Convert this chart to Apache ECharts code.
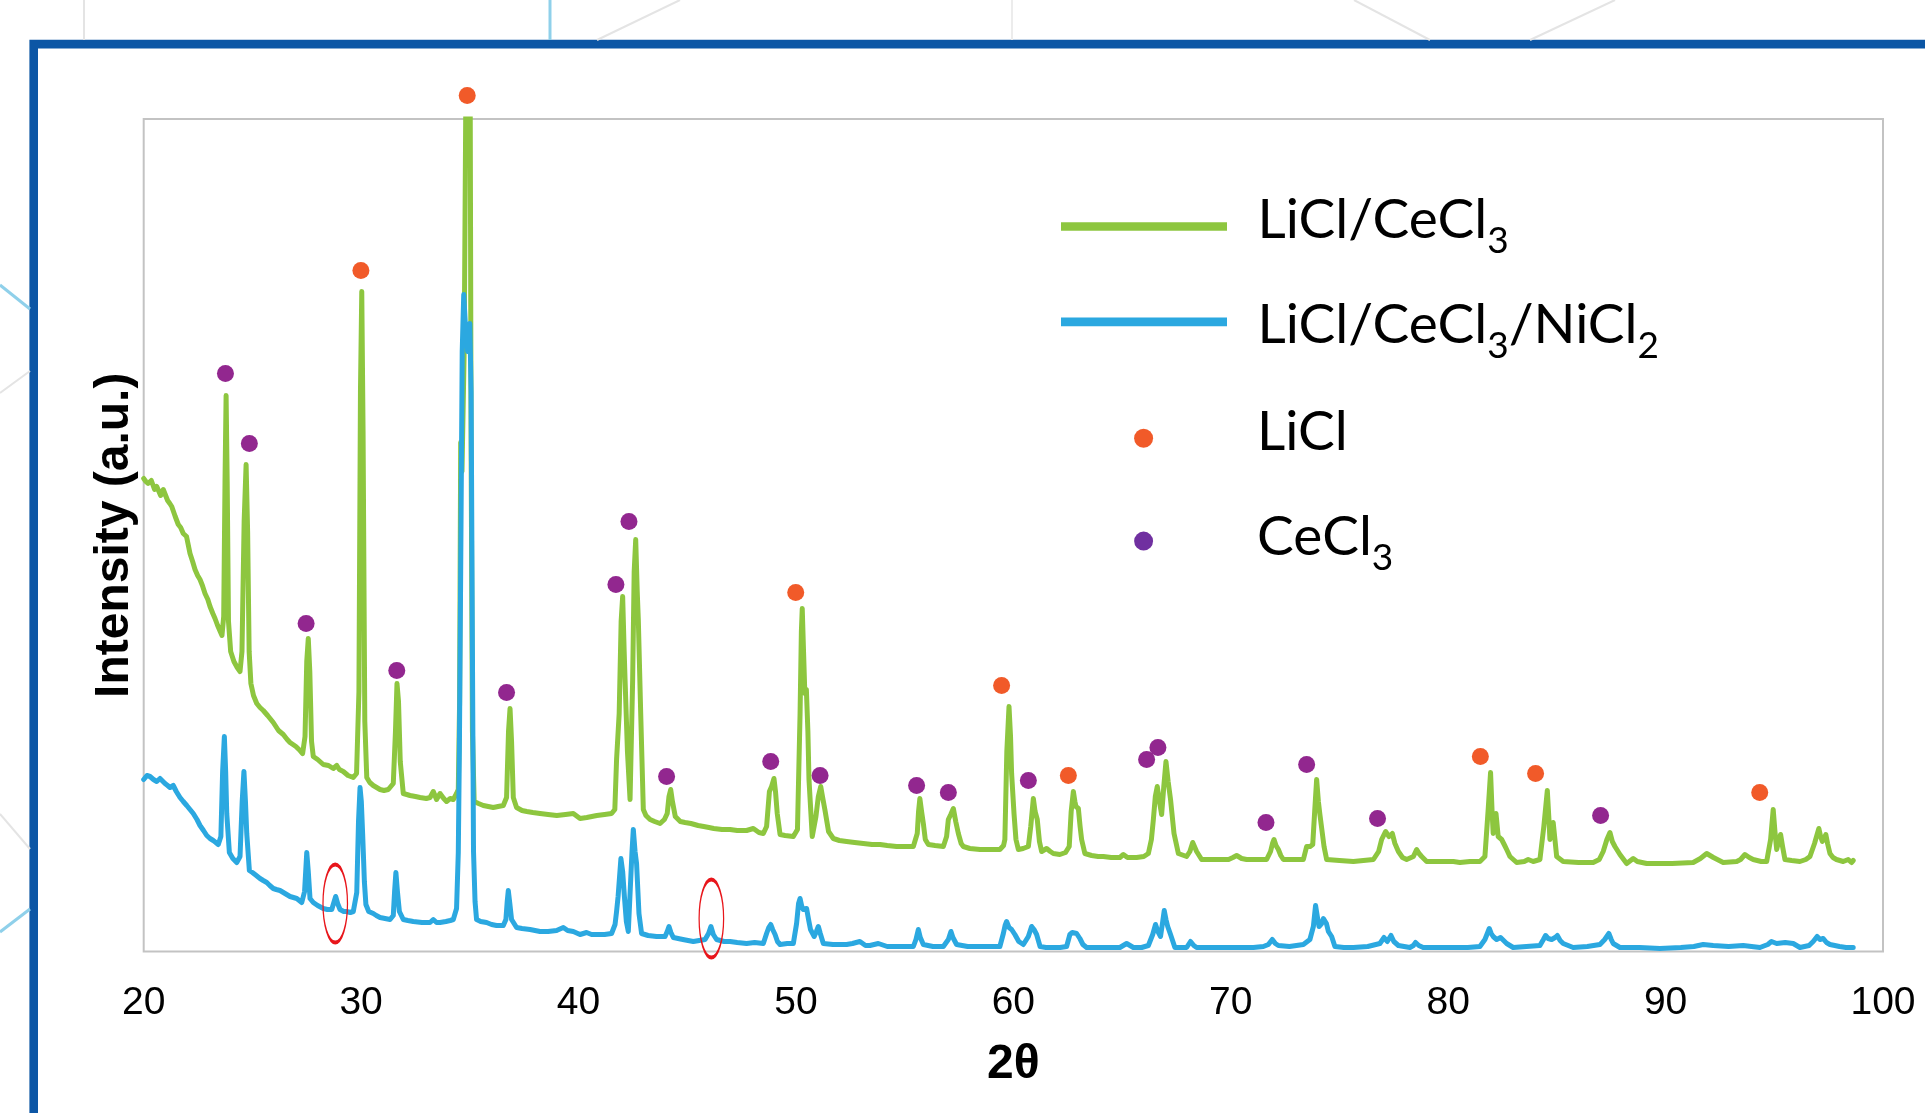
<!DOCTYPE html>
<html>
<head>
<meta charset="utf-8">
<script src="https://cdn.jsdelivr.net/npm/echarts@6.0.0/dist/echarts.min.js"></script>
<style>
html,body{margin:0;padding:0;background:#fff;}
#chart{width:1925px;height:1113px;}
</style>
</head>
<body>
<div id="chart"></div>
<script>
// ---- data (2θ in degrees, intensity in arbitrary units) ----
const xMin = 20, xMax = 100, xStep = 10;
const yMax = 832.5;

const seriesNames = ['LiCl/CeCl3', 'LiCl/CeCl3/NiCl2', 'LiCl', 'CeCl3'];

const liclCecl3 = [
[20.0,473],[20.1,470],[20.2,468],[20.35,471],[20.5,462],[20.6,465],[20.78,456],[20.9,462],[20.98,463],[21.1,451],[21.2,448],[21.29,445],[21.45,435],[21.59,427],[21.7,424],[21.82,418],[21.97,415],[22.13,398],[22.25,390],[22.36,382],[22.48,376],[22.59,372],[22.7,366],[22.82,358],[22.95,352],[23.05,345],[23.18,338],[23.28,333],[23.4,326],[23.5,321],[23.6,316],[23.68,335],[23.74,470],[23.79,556],[23.84,470],[23.9,330],[24.0,300],[24.15,290],[24.3,284],[24.43,280],[24.52,300],[24.62,430],[24.71,487],[24.78,420],[24.85,300],[24.93,268],[25.05,256],[25.2,248],[25.35,244],[25.5,241],[25.7,236],[25.96,229],[26.2,221],[26.42,217],[26.6,212],[26.73,209],[27.0,205],[27.19,201],[27.31,198],[27.42,215],[27.5,290],[27.57,313],[27.64,280],[27.72,210],[27.8,195],[28.0,192],[28.26,187],[28.5,186],[28.72,183],[28.88,186],[29.0,182],[29.18,180],[29.4,176],[29.64,174],[29.79,178],[29.9,260],[29.97,560],[30.03,660],[30.09,520],[30.17,230],[30.26,174],[30.4,169],[30.56,166],[30.87,162],[31.05,161],[31.25,162],[31.48,168],[31.58,220],[31.65,268],[31.72,250],[31.8,190],[31.94,158],[32.1,157],[32.25,156],[32.5,155],[32.71,154],[33.0,153],[33.17,154],[33.32,160],[33.47,152],[33.63,158],[33.8,153],[33.93,150],[34.1,153],[34.24,152],[34.39,158],[34.47,162],[34.53,250],[34.58,509],[34.64,480],[34.74,600],[34.86,1000],[34.9,1000],[35.0,1000],[35.06,500],[35.12,220],[35.2,150],[35.4,148],[35.62,146],[35.85,145],[36.08,144],[36.3,145],[36.54,146],[36.69,154],[36.78,220],[36.85,243],[36.92,210],[37.0,154],[37.15,144],[37.4,141],[37.62,140],[37.9,139],[38.23,138],[38.6,137],[39.0,136],[39.4,137],[39.76,138],[40.07,133],[40.38,134],[40.84,136],[41.2,137],[41.52,138],[41.67,142],[41.75,192],[41.87,238],[41.96,330],[42.03,355],[42.1,300],[42.14,272],[42.25,200],[42.37,152],[42.49,272],[42.56,380],[42.63,412],[42.7,360],[42.75,332],[42.86,238],[42.98,142],[43.1,136],[43.29,132],[43.5,130],[43.75,128],[43.95,132],[44.08,138],[44.16,155],[44.24,162],[44.32,150],[44.45,135],[44.68,130],[44.9,129],[45.17,128],[45.5,126],[45.76,125],[46.0,124],[46.22,123],[46.6,122],[46.97,122],[47.3,121],[47.73,121],[48.04,123],[48.3,119],[48.5,118],[48.65,125],[48.78,160],[48.88,165],[48.99,173],[49.06,160],[49.14,138],[49.27,117],[49.5,116],[49.88,115],[50.07,122],[50.19,238],[50.25,320],[50.29,343],[50.35,300],[50.41,258],[50.48,262],[50.55,220],[50.6,172],[50.75,115],[50.92,135],[51.03,155],[51.14,165],[51.22,155],[51.33,142],[51.5,120],[51.72,113],[52.0,111],[52.33,110],[52.7,109],[53.1,108],[53.5,107],[53.87,107],[54.2,106],[54.63,105],[55.0,105],[55.4,105],[55.58,118],[55.64,140],[55.7,153],[55.78,140],[55.86,128],[55.95,112],[56.09,107],[56.4,106],[56.78,105],[56.93,115],[57.01,132],[57.12,137],[57.24,143],[57.35,130],[57.47,118],[57.6,108],[57.7,105],[58.0,103],[58.47,102],[58.9,102],[59.38,102],[59.55,106],[59.61,112],[59.7,200],[59.8,245],[59.87,215],[59.92,178],[60.03,138],[60.12,112],[60.23,102],[60.45,103],[60.69,105],[60.8,125],[60.92,153],[61.0,140],[61.1,132],[61.2,110],[61.3,100],[61.53,103],[61.7,100],[61.84,98],[62.14,97],[62.4,99],[62.57,105],[62.66,140],[62.76,160],[62.83,150],[62.88,145],[62.99,143],[63.07,125],[63.14,112],[63.29,98],[63.6,96],[63.9,95],[64.14,95],[64.5,94],[64.9,94],[65.06,97],[65.25,94],[65.67,94],[66.0,95],[66.21,98],[66.35,112],[66.44,132],[66.53,155],[66.62,165],[66.72,150],[66.82,137],[66.92,165],[67.02,190],[67.12,170],[67.23,152],[67.39,118],[67.59,98],[67.97,95],[68.12,100],[68.25,109],[68.43,100],[68.66,92],[69.0,92],[69.5,92],[69.9,92],[70.1,94],[70.27,96],[70.5,93],[70.73,92],[71.2,92],[71.65,92],[71.83,100],[71.92,108],[71.99,112],[72.08,106],[72.19,102],[72.3,96],[72.42,92],[72.9,92],[73.34,92],[73.49,105],[73.65,105],[73.77,107],[73.86,140],[73.95,172],[74.03,150],[74.1,137],[74.18,137],[74.29,105],[74.41,92],[75.0,91],[75.64,90],[76.1,91],[76.56,92],[76.8,100],[76.94,112],[77.12,120],[77.28,115],[77.43,118],[77.55,108],[77.71,100],[77.9,94],[78.09,92],[78.4,95],[78.55,102],[78.66,98],[78.78,95],[79.01,90],[79.6,90],[80.24,90],[80.54,89],[81.0,90],[81.46,90],[81.69,95],[81.84,142],[81.95,179],[82.02,140],[82.07,118],[82.2,138],[82.3,115],[82.46,112],[82.6,106],[82.69,102],[82.84,95],[83.15,89],[83.5,90],[83.68,92],[83.91,90],[84.22,92],[84.4,125],[84.56,161],[84.64,130],[84.68,112],[84.76,120],[84.83,129],[84.92,110],[84.99,95],[85.29,90],[86.0,89],[86.67,89],[86.95,92],[87.13,100],[87.3,112],[87.44,119],[87.55,110],[87.67,105],[87.9,97],[88.21,88],[88.51,93],[88.7,90],[89.13,88],[89.7,88],[90.3,88],[91.27,89],[91.6,93],[91.89,98],[92.2,94],[92.65,89],[93.27,90],[93.45,92],[93.65,97],[93.85,94],[94.03,92],[94.4,90],[94.65,90],[94.83,112],[94.95,142],[95.03,120],[95.11,102],[95.2,110],[95.29,117],[95.38,105],[95.49,92],[95.8,91],[96.18,90],[96.45,92],[96.64,95],[96.85,108],[97.05,123],[97.13,115],[97.21,110],[97.37,117],[97.45,108],[97.56,98],[97.7,94],[97.86,92],[98.17,90],[98.4,92],[98.55,89],[98.63,91]
];

const liclCecl3Nicl2 = [
[20.0,172],[20.15,176],[20.29,175],[20.45,172],[20.6,170],[20.75,173],[20.98,168],[21.1,166],[21.21,164],[21.36,166],[21.5,160],[21.67,154],[21.82,150],[21.98,146],[22.13,142],[22.28,138],[22.45,132],[22.59,126],[22.75,121],[22.9,116],[23.05,113],[23.2,111],[23.32,109],[23.43,107],[23.55,115],[23.63,180],[23.71,215],[23.77,180],[23.82,138],[23.94,99],[24.1,93],[24.28,89],[24.43,95],[24.53,150],[24.61,180],[24.68,150],[24.74,118],[24.86,81],[25.0,79],[25.12,77],[25.35,73],[25.5,71],[25.66,69],[25.8,66],[25.96,63],[26.1,62],[26.27,61],[26.5,58],[26.73,55],[27.04,53],[27.27,49],[27.4,60],[27.5,99],[27.57,80],[27.65,53],[27.8,49],[28.0,46],[28.26,43],[28.45,42],[28.65,42],[28.76,50],[28.83,55],[28.92,48],[29.03,42],[29.2,40],[29.33,40],[29.5,39],[29.64,40],[29.8,59],[29.88,130],[29.95,164],[30.01,150],[30.07,118],[30.15,70],[30.22,47],[30.35,40],[30.56,38],[30.7,36],[30.87,34],[31.1,33],[31.33,32],[31.48,36],[31.54,60],[31.6,79],[31.67,60],[31.76,40],[31.94,32],[32.15,31],[32.4,30],[32.8,29],[33.17,29],[33.32,32],[33.47,29],[33.63,29],[33.9,30],[34.1,31],[34.24,32],[34.39,43],[34.47,99],[34.52,201],[34.58,380],[34.65,600],[34.72,657],[34.8,625],[34.9,600],[35.0,628],[35.06,560],[35.12,300],[35.17,100],[35.24,50],[35.31,32],[35.5,30],[35.77,29],[36.0,27],[36.23,26],[36.54,26],[36.66,32],[36.72,50],[36.77,61],[36.84,48],[36.92,32],[37.15,24],[37.4,23],[37.77,22],[38.0,21],[38.23,20],[38.6,20],[38.99,21],[39.3,24],[39.5,21],[39.76,20],[40.07,17],[40.37,19],[40.6,17],[40.83,17],[41.2,17],[41.52,18],[41.68,27],[41.75,40],[41.82,55],[41.95,93],[42.03,80],[42.11,55],[42.2,30],[42.29,20],[42.4,72],[42.46,100],[42.52,122],[42.6,100],[42.67,88],[42.78,38],[42.9,18],[43.2,16],[43.59,15],[43.98,15],[44.08,20],[44.16,25],[44.25,19],[44.36,14],[44.8,12],[45.28,10],[45.55,11],[45.82,12],[45.98,18],[46.09,25],[46.2,17],[46.35,12],[46.7,10],[46.97,10],[47.3,9],[47.73,8],[48.1,9],[48.5,8],[48.65,18],[48.75,24],[48.84,27],[48.93,22],[49.04,17],[49.15,10],[49.27,7],[49.6,8],[49.88,8],[50.03,28],[50.12,48],[50.19,53],[50.27,45],[50.34,42],[50.42,40],[50.49,43],[50.58,32],[50.67,22],[50.84,15],[50.94,20],[51.03,25],[51.12,18],[51.26,8],[51.7,7],[52.0,7],[52.33,7],[52.6,8],[52.94,10],[53.2,6],[53.4,6],[53.79,8],[54.2,5],[54.63,5],[55.0,5],[55.4,5],[55.52,12],[55.63,22],[55.72,14],[55.86,7],[56.3,5],[56.78,5],[57.01,12],[57.13,20],[57.22,14],[57.39,7],[57.9,5],[58.46,5],[58.9,5],[59.38,5],[59.54,18],[59.62,26],[59.69,30],[59.8,24],[59.92,22],[60.07,17],[60.25,10],[60.46,7],[60.69,15],[60.84,25],[60.95,22],[61.07,17],[61.23,5],[61.5,4],[61.84,4],[62.15,4],[62.45,5],[62.6,17],[62.71,19],[62.8,17],[62.91,18],[63.06,13],[63.2,7],[63.37,4],[63.9,4],[64.4,4],[64.9,4],[65.21,8],[65.52,4],[65.9,4],[66.21,6],[66.41,17],[66.54,27],[66.65,20],[66.77,15],[66.87,30],[66.94,41],[67.02,32],[67.1,25],[67.23,17],[67.43,4],[67.97,4],[68.15,10],[68.3,6],[68.43,4],[69.0,4],[69.6,4],[70.3,4],[71.04,4],[71.5,5],[71.73,7],[71.91,12],[72.05,8],[72.19,6],[72.7,5],[73.34,7],[73.64,12],[73.8,25],[73.9,46],[73.98,35],[74.06,25],[74.18,28],[74.26,33],[74.33,35],[74.4,28],[74.49,20],[74.64,15],[74.79,5],[75.2,4],[75.64,4],[76.3,5],[76.86,8],[77.05,14],[77.2,10],[77.37,16],[77.5,10],[77.71,6],[78.24,4],[78.4,6],[78.5,9],[78.65,6],[78.85,4],[79.5,4],[80.24,4],[80.9,4],[81.46,5],[81.69,12],[81.8,18],[81.89,23],[81.98,18],[82.07,15],[82.23,12],[82.41,14],[82.55,11],[82.69,8],[82.99,4],[83.6,5],[84.22,6],[84.38,12],[84.48,16],[84.6,13],[84.76,12],[84.92,14],[85.02,16],[85.15,11],[85.29,8],[85.75,4],[86.4,5],[86.98,7],[87.2,12],[87.39,18],[87.5,12],[87.59,8],[87.9,4],[88.8,4],[89.74,3],[90.7,4],[91.3,5],[91.73,7],[92.19,6],[92.9,5],[93.57,6],[94.34,4],[94.7,7],[94.87,10],[95.11,8],[95.5,9],[95.87,8],[96.18,4],[96.6,6],[96.79,10],[96.97,15],[97.1,12],[97.25,13],[97.4,9],[97.56,7],[98.0,5],[98.3,4],[98.63,4]
];

// reflection markers (LiCl and CeCl3 phases)
const liclPeaks = [[29.99,681],[34.88,856],[49.99,359],[59.46,266],[62.53,176],[81.48,195],[84.02,178],[94.33,159]];
const cecl3Peaks = [[23.76,578],[24.86,508],[27.47,328],[31.64,281],[36.69,259],[41.72,367],[42.32,430],[44.05,175],[48.84,190],[51.11,176],[55.55,166],[57.01,159],[60.69,171],[66.13,192],[66.65,204],[71.62,129],[73.49,187],[76.75,133],[87.01,136]];

// highlighted weak reflections (red ellipses)
const highlighted = [[28.81,48],[46.11,33]];

// ---- chart ----
const FONT = '"Liberation Sans", Arial, sans-serif';
const LEG_FONT = 'Lato, "Open Sans", sans-serif';

function richName(name) {
  return name.split(/(\d)/).filter(s => s.length).map(s => /^\d$/.test(s) ? '{s|' + s + '}' : '{m|' + s + '}').join('');
}
const legendRich = {
  m: { fontSize: 55, fontFamily: LEG_FONT, color: '#000', lineHeight: 64 },
  s: { fontSize: 37, fontFamily: LEG_FONT, color: '#000', lineHeight: 20, padding: [42, 0, 0, 0] }
};
function makeLegend(name, left, top, icon, iconH, pad, color) {
  const item = { name: name, icon: icon };
  if (color) item.itemStyle = { color: color };
  return {
    data: [item],
    left: left, top: top, orient: 'vertical', padding: 0,
    itemWidth: 166, itemHeight: iconH, selectedMode: false,
    itemStyle: { borderWidth: 0 },
    formatter: richName,
    textStyle: { rich: legendRich, padding: pad }
  };
}

const ellipsePath = 'path://M50,0 C77.6,0 100,22.4 100,50 C100,77.6 77.6,100 50,100 C22.4,100 0,77.6 0,50 C0,22.4 22.4,0 50,0 Z';

const chart = echarts.init(document.getElementById('chart'), null, { renderer: 'canvas' });
chart.setOption({
  animation: false,
  backgroundColor: '#ffffff',
  graphic: [
    { type: 'rect', z: -10, silent: true, shape: { x: 33.7, y: 44.1, width: 2100, height: 1500 }, style: { fill: '#ffffff', stroke: '#0c56a5', lineWidth: 8.6 } },
    { type: 'line', z: -9, silent: true, shape: { x1: 84, y1: 0, x2: 84, y2: 40 }, style: { stroke: '#e4e4e4', lineWidth: 2 } },
    { type: 'line', z: -9, silent: true, shape: { x1: 550, y1: 0, x2: 550, y2: 40 }, style: { stroke: '#8fd0ea', lineWidth: 3 } },
    { type: 'line', z: -9, silent: true, shape: { x1: 597, y1: 40, x2: 680, y2: 0 }, style: { stroke: '#e4e4e4', lineWidth: 2 } },
    { type: 'line', z: -9, silent: true, shape: { x1: 1012, y1: 0, x2: 1012, y2: 40 }, style: { stroke: '#ececec', lineWidth: 2 } },
    { type: 'line', z: -9, silent: true, shape: { x1: 1354, y1: 0, x2: 1430, y2: 40 }, style: { stroke: '#e4e4e4', lineWidth: 2 } },
    { type: 'line', z: -9, silent: true, shape: { x1: 1530, y1: 40, x2: 1615, y2: 0 }, style: { stroke: '#e4e4e4', lineWidth: 2 } },
    { type: 'line', z: -9, silent: true, shape: { x1: 0, y1: 285, x2: 30, y2: 309 }, style: { stroke: '#8fd0ea', lineWidth: 3 } },
    { type: 'line', z: -9, silent: true, shape: { x1: 0, y1: 393, x2: 30, y2: 371 }, style: { stroke: '#e4e4e4', lineWidth: 2 } },
    { type: 'line', z: -9, silent: true, shape: { x1: 0, y1: 814, x2: 30, y2: 849 }, style: { stroke: '#e4e4e4', lineWidth: 2 } },
    { type: 'line', z: -9, silent: true, shape: { x1: 0, y1: 932, x2: 30, y2: 909 }, style: { stroke: '#8fd0ea', lineWidth: 3 } }
  ],
  grid: {
    left: 143.7, right: 42, top: 119, bottom: 161.5,
    show: true, borderColor: '#c3c3c3', borderWidth: 2, backgroundColor: 'transparent',
    outerBoundsMode: 'none'
  },
  legend: [
    makeLegend(seriesNames[0], 1061, 180.4, 'rect', 8.7, [0, 0, 13.2, 25.5]),
    makeLegend(seriesNames[1], 1061, 285.3, 'rect', 8.7, [6, 0, 0, 25.5]),
    makeLegend(seriesNames[2], 1134.1, 404.5, 'circle', 19, [0, 0, 12.4, 25.5], '#f15a29'),
    makeLegend(seriesNames[3], 1134.1, 497.5, 'circle', 19, [0, 0, 8.2, 25.5], '#7030a0')
  ],
  xAxis: {
    type: 'value', min: xMin, max: xMax, interval: xStep,
    axisLine: { show: false }, axisTick: { show: false }, splitLine: { show: false },
    axisLabel: { fontSize: 39, fontFamily: FONT, color: '#000', margin: 32 },
    name: '2θ', nameLocation: 'middle', nameGap: 89,
    nameTextStyle: { fontSize: 48, fontWeight: 'bold', fontFamily: FONT, color: '#000' }
  },
  yAxis: {
    type: 'value', min: 0, max: yMax,
    axisLine: { show: false }, axisTick: { show: false }, splitLine: { show: false },
    axisLabel: { show: false },
    name: 'Intensity (a.u.)', nameLocation: 'middle', nameRotate: 90, nameGap: 5,
    nameTextStyle: { fontSize: 48, fontWeight: 'bold', fontFamily: FONT, color: '#000' }
  },
  series: [
    {
      name: seriesNames[0], type: 'line', data: liclCecl3, showSymbol: false, symbol: 'none',
      color: '#8dc63f', lineStyle: { width: 5, color: '#8dc63f', join: 'round', cap: 'round' },
      itemStyle: { color: '#8dc63f', borderWidth: 0 }, z: 2
    },
    {
      name: seriesNames[1], type: 'line', data: liclCecl3Nicl2, showSymbol: false, symbol: 'none',
      color: '#2ba8e0', lineStyle: { width: 5, color: '#2ba8e0', join: 'round', cap: 'round' },
      itemStyle: { color: '#2ba8e0', borderWidth: 0 }, z: 3
    },
    {
      name: seriesNames[2], type: 'scatter', data: liclPeaks, symbol: 'circle', symbolSize: 17,
      itemStyle: { color: '#f15a29', opacity: 1 }, clip: false, z: 4
    },
    {
      name: seriesNames[3], type: 'scatter', data: cecl3Peaks, symbol: 'circle', symbolSize: 17,
      itemStyle: { color: '#92278f', opacity: 1 }, clip: false, z: 4
    },
    {
      name: 'highlight', type: 'scatter', data: highlighted, symbol: ellipsePath, symbolSize: [24.5, 78],
      itemStyle: { color: 'rgba(0,0,0,0)', borderColor: '#e8161b', borderWidth: 2.2, opacity: 1 },
      clip: false, silent: true, z: 5
    }
  ]
});
</script>
</body>
</html>
